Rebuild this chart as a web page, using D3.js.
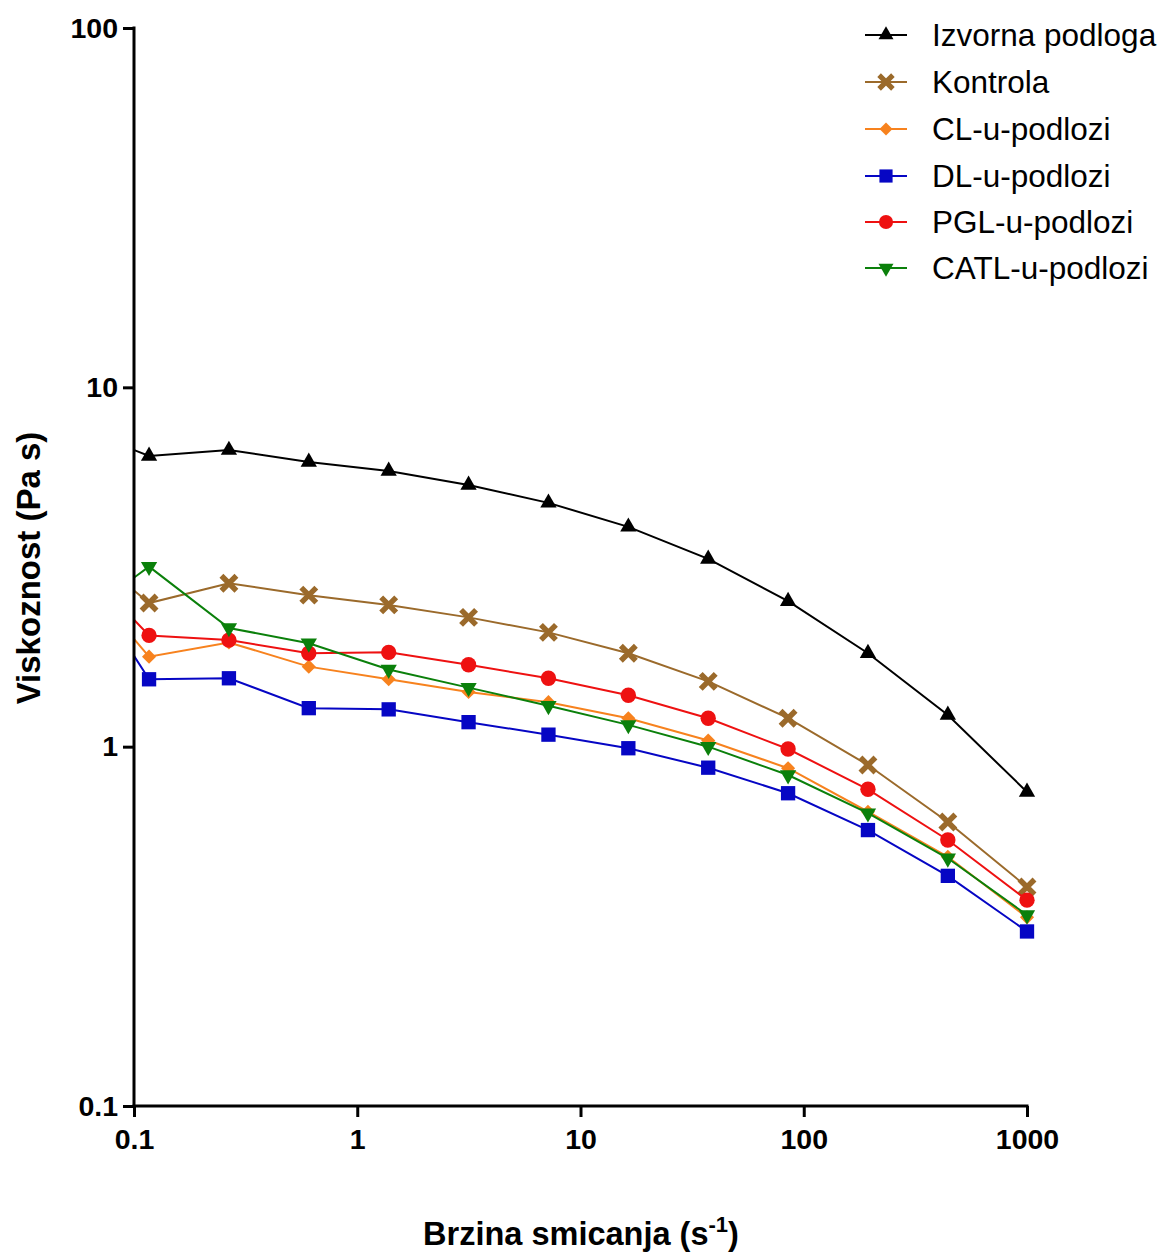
<!DOCTYPE html>
<html>
<head>
<meta charset="utf-8">
<script src="https://cdn.jsdelivr.net/npm/d3@7"></script>
<style>
  html, body { margin: 0; padding: 0; background: #fff; }
  svg { display: block; }
  text { font-family: "Liberation Sans", Arial, Helvetica, sans-serif; }
</style>
</head>
<body>
<div id="chart"></div>
<script>
// ---- data ----
const shearRate = [0.0512, 0.1168, 0.2662, 0.6067, 1.383, 3.152, 7.185, 16.38, 37.33, 85.08, 193.9, 442.0, 1000];
const izvorna   = [7.90, 6.44, 6.69, 6.20, 5.85, 5.35, 4.77, 4.09, 3.33, 2.54, 1.82, 1.225, 0.748];
const kontrola  = [3.85, 2.51, 2.85, 2.64, 2.48, 2.29, 2.08, 1.82, 1.52, 1.20, 0.889, 0.617, 0.407];
const clPodloga = [3.25, 1.78, 1.95, 1.67, 1.54, 1.42, 1.33, 1.20, 1.04, 0.871, 0.659, 0.494, 0.335];
const dlPodloga = [3.41, 1.54, 1.55, 1.28, 1.27, 1.17, 1.08, 0.99, 0.874, 0.742, 0.586, 0.437, 0.306];
const pglPodloga= [3.48, 2.04, 1.98, 1.82, 1.83, 1.69, 1.55, 1.39, 1.20, 0.985, 0.761, 0.550, 0.374];
const catlPodloga=[2.18, 3.17, 2.14, 1.94, 1.64, 1.46, 1.30, 1.15, 1.00, 0.834, 0.653, 0.489, 0.340];

const seriesNames = ["Izvorna podloga", "Kontrola", "CL-u-podlozi", "DL-u-podlozi", "PGL-u-podlozi", "CATL-u-podlozi"];
const seriesValues = [izvorna, kontrola, clPodloga, dlPodloga, pglPodloga, catlPodloga];
const seriesColors = ["#000000", "#9b6a2b", "#f7821e", "#0606c4", "#ee1111", "#0b800b"];
const seriesMarkers = ["triangle", "x", "diamond", "square", "circle", "triangleDown"];

const xTicks = [0.1, 1, 10, 100, 1000];
const xTickLabels = ["0.1", "1", "10", "100", "1000"];
const yTicks = [0.1, 1, 10, 100];
const yTickLabels = ["0.1", "1", "10", "100"];

// ---- layout ----
const W = 1166, H = 1254;
const mLeft = 134, mRight = 1027, mTop = 28, mBottom = 1106;

const svg = d3.select("#chart").append("svg").attr("width", W).attr("height", H);

const x = d3.scaleLog().domain([0.1, 1000]).range([mLeft, mRight]);
const y = d3.scaleLog().domain([0.1, 100]).range([mBottom, mTop]);

svg.append("defs").append("clipPath").attr("id", "plotclip")
  .append("rect").attr("x", mLeft).attr("y", 0).attr("width", mRight - mLeft + 20).attr("height", mBottom);

function markerPath(type, scale) {
  const s = scale || 1;
  if (type === "x") {
    const p = d3.path(); const a = 7.5 * s;
    p.moveTo(-a, -a); p.lineTo(a, a); p.moveTo(-a, a); p.lineTo(a, -a);
    return p.toString();
  }
  if (type === "triangle" || type === "triangleDown") return d3.symbol(d3.symbolTriangle, 115 * s * s)();
  if (type === "diamond") return d3.symbol(d3.symbolSquare, 100 * s * s)();
  if (type === "square") return d3.symbol(d3.symbolSquare, 205 * s * s)();
  if (type === "circle") return d3.symbol(d3.symbolCircle, 185 * s * s)();
}
function markerTransform(type, cx, cy) {
  let t = `translate(${cx},${cy})`;
  if (type === "triangleDown") t += " rotate(180)";
  if (type === "diamond") t += " rotate(45)";
  return t;
}
function drawMarker(g, type, color, cx, cy, scale) {
  const el = g.append("path").attr("d", markerPath(type, scale))
    .attr("transform", markerTransform(type, cx, cy));
  if (type === "x") {
    el.attr("fill", "none").attr("stroke", color).attr("stroke-width", 5.5 * (scale || 1));
  } else {
    el.attr("fill", color).attr("stroke", "none");
  }
}

const line = d3.line().x(d => x(d[0])).y(d => y(d[1]));

// ---- series ----
seriesValues.forEach((vals, i) => {
  const pts = shearRate.map((sr, j) => [sr, vals[j]]);
  const g = svg.append("g");
  g.append("path").datum(pts).attr("d", line)
    .attr("fill", "none").attr("stroke", seriesColors[i]).attr("stroke-width", 2)
    .attr("clip-path", "url(#plotclip)");
  pts.filter(p => p[0] >= 0.1).forEach(p => drawMarker(g, seriesMarkers[i], seriesColors[i], x(p[0]), y(p[1]), 1));
});

// ---- axes ----
const xAxis = d3.axisBottom(x).tickValues(xTicks).tickFormat((d, i) => xTickLabels[i])
  .tickSize(11).tickSizeOuter(0).tickPadding(12);
const yAxis = d3.axisLeft(y).tickValues(yTicks).tickFormat((d, i) => yTickLabels[i])
  .tickSize(11).tickSizeOuter(0).tickPadding(5);

const gx = svg.append("g").attr("transform", `translate(0,${mBottom})`).call(xAxis);
const gy = svg.append("g").attr("transform", `translate(${mLeft},0)`).call(yAxis);
[gx, gy].forEach(g => {
  g.select(".domain").attr("stroke", "#000").attr("stroke-width", 3);
  g.selectAll(".tick line").attr("stroke", "#000").attr("stroke-width", 3);
  g.selectAll(".tick text").attr("fill", "#000").style("font-size", "28.5px").style("font-weight", "bold")
    .style("font-family", '"Liberation Sans", Arial, sans-serif');
});
gx.select(".domain").attr("d", `M${mLeft - 1.5},0H${mRight + 1.5}`);
gy.select(".domain").attr("d", `M0,${mTop - 1.5}V${mBottom + 1.5}`);

// ---- axis titles ----
const xt = svg.append("text").attr("x", 581).attr("y", 1245).attr("text-anchor", "middle")
  .style("font-size", "32.5px").style("font-weight", "bold").attr("fill", "#000");
xt.append("tspan").text("Brzina smicanja (s");
xt.append("tspan").text("-1").style("font-size", "22px").attr("dy", -13);
xt.append("tspan").text(")").attr("dy", 13);

svg.append("text").attr("transform", `translate(40,568) rotate(-90)`).attr("text-anchor", "middle")
  .style("font-size", "33px").style("font-weight", "bold").attr("fill", "#000")
  .text("Viskoznost (Pa s)");

// ---- legend ----
const legendY = [35, 82, 129, 176, 222, 268];
seriesNames.forEach((name, i) => {
  const g = svg.append("g");
  g.append("line").attr("x1", 865).attr("x2", 907).attr("y1", legendY[i]).attr("y2", legendY[i])
    .attr("stroke", seriesColors[i]).attr("stroke-width", 2);
  drawMarker(g, seriesMarkers[i], seriesColors[i], 886, legendY[i], 0.92);
  g.append("text").attr("x", 932).attr("y", legendY[i]).attr("dy", "0.35em")
    .style("font-size", "31.5px").attr("fill", "#000").text(name);
});
</script>
</body>
</html>
